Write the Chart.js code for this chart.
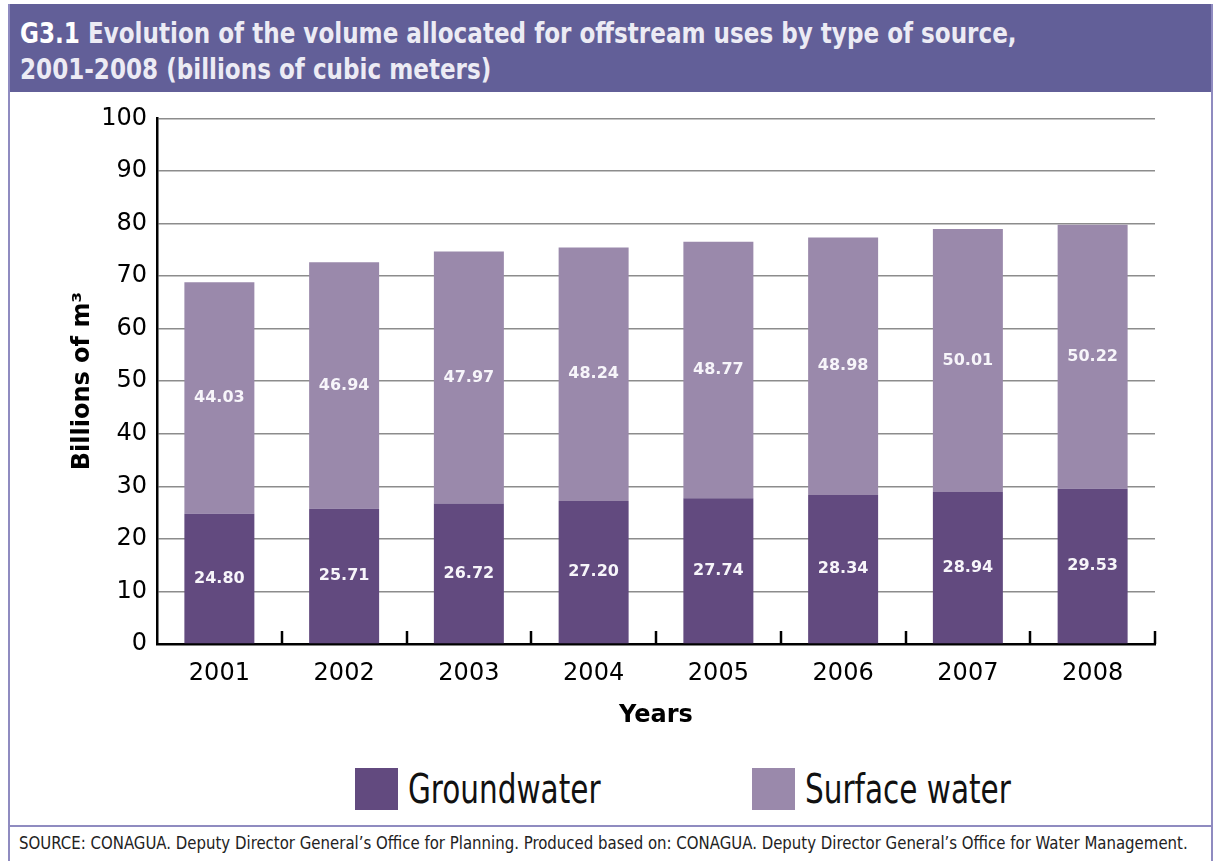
<!DOCTYPE html>
<html>
<head>
<meta charset="utf-8">
<script src="https://cdn.jsdelivr.net/npm/chart.js@4"></script>
<style>
  html, body { margin: 0; padding: 0; background: #fff; }
  body { width: 1217px; height: 861px; position: relative; overflow: hidden; }
  .frame { position: absolute; left: 8px; top: 4px; width: 1201px; height: 870px;
           border-left: 2px solid #8f8bc0; border-right: 2px solid #8f8bc0; }
  .head { position: absolute; left: 0; top: 0; width: 1201px; height: 88px; background: #625f98; }
  .head p { margin: 0; position: absolute; left: 10px; top: 11px; color: #ecebf4; white-space: nowrap;
            font: bold 29px "DejaVu Sans Condensed", "DejaVu Sans", sans-serif; line-height: 36px;
            transform: scaleX(0.885); transform-origin: left top; }
  .head b { color: #fff; }
  .sep { position: absolute; left: 0; top: 821px; width: 1201px; height: 2px; background: #8f8bc0; }
  .source { position: absolute; left: 9px; top: 829px; color: #222; white-space: nowrap;
            font: 17px "DejaVu Sans Condensed", "DejaVu Sans", sans-serif;
            transform: scaleX(0.978); transform-origin: left top; }
  #wrap { position: absolute; left: 10px; top: 94px; width: 1201px; height: 650px; }
  .legend span { position: absolute; top: 766px; display: flex; align-items: center; white-space: nowrap;
                 font: 40px "DejaVu Sans Condensed", "DejaVu Sans", sans-serif; color: #111; }
  .legend i { display: inline-block; width: 43px; height: 42px; margin-right: 10px; flex: none; }
  .legend em { font-style: normal; display: inline-block; transform: scaleX(0.82); transform-origin: left center; }
</style>
</head>
<body>
<div class="frame">
  <div class="head"><p><b>G3.1</b> Evolution of the volume allocated for offstream uses by type of source,<br>2001-2008 (billions of cubic meters)</p></div>
  <div class="sep"></div>
  <div class="source">SOURCE: CONAGUA. Deputy Director General’s Office for Planning. Produced based on: CONAGUA. Deputy Director General’s Office for Water Management.</div>
</div>
<div id="wrap"><canvas id="chart"></canvas></div>
<div class="legend" id="legend"></div>
<script>
const years = ['2001', '2002', '2003', '2004', '2005', '2006', '2007', '2008'];
const groundwater = [24.80, 25.71, 26.72, 27.20, 27.74, 28.34, 28.94, 29.53];
const surfaceWater = [44.03, 46.94, 47.97, 48.24, 48.77, 48.98, 50.01, 50.22];
const seriesNames = ['Groundwater', 'Surface water'];
const seriesColors = ['#624a7f', '#9a89ab'];
const yTicks = [0, 10, 20, 30, 40, 50, 60, 70, 80, 90, 100];

const axisFont = { family: 'DejaVu Sans', size: 24 };

// up-pointing ticks on the x axis between categories
const xTickMarks = {
    id: 'xTickMarks',
    afterDatasetsDraw(chart) {
        const x = chart.scales.x, ctx = chart.ctx, bottom = chart.chartArea.bottom;
        ctx.save();
        ctx.strokeStyle = '#000';
        ctx.lineWidth = 2.5;
        for (let i = 1; i <= years.length; i++) {
            const px = Math.round(x.getPixelForValue(i - 0.5));
            ctx.beginPath();
            ctx.moveTo(px, bottom);
            ctx.lineTo(px, bottom - 13);
            ctx.stroke();
        }
        ctx.restore();
    }
};

// value labels in the middle of each segment
const segmentLabels = {
    id: 'segmentLabels',
    afterDatasetsDraw(chart) {
        const ctx = chart.ctx;
        ctx.save();
        ctx.fillStyle = '#f7f5fa';
        ctx.font = 'bold 16px "DejaVu Sans"';
        ctx.textAlign = 'center';
        ctx.textBaseline = 'middle';
        chart.data.datasets.forEach((ds, di) => {
            chart.getDatasetMeta(di).data.forEach((bar, i) => {
                ctx.fillText(ds.data[i].toFixed(2), bar.x, (bar.y + bar.base) / 2);
            });
        });
        ctx.restore();
    }
};

new Chart(document.getElementById('chart'), {
    type: 'bar',
    data: {
        labels: years,
        datasets: [{
            label: seriesNames[0],
            data: groundwater,
            backgroundColor: seriesColors[0],
        }, {
            label: seriesNames[1],
            data: surfaceWater,
            backgroundColor: seriesColors[1],
        }]
    },
    options: {
        responsive: true,
        maintainAspectRatio: false,
        animation: false,
        events: [],
        layout: { padding: { top: 24, right: 56, left: 58, bottom: 12 } },
        datasets: { bar: { categoryPercentage: 1, barPercentage: 0.561 } },
        scales: {
            x: {
                stacked: true,
                grid: { display: false },
                border: { display: true, color: '#000', width: 2.5 },
                ticks: { color: '#000', font: axisFont, padding: 7 },
                title: { display: true, text: 'Years', color: '#000', font: { family: 'DejaVu Sans', size: 24, weight: 'bold' }, padding: { top: 0, bottom: 2 } },
                afterFit(scale) { scale.height = 88; }
            },
            y: {
                stacked: true,
                min: 0,
                max: 100,
                afterBuildTicks(scale) { scale.ticks = yTicks.map(v => ({ value: v })); },
                grid: { color: '#8c8c8c', lineWidth: 1.5, drawTicks: false },
                border: { display: true, color: '#000', width: 2.5 },
                ticks: { color: '#000', font: axisFont, padding: 10 },
                title: { display: true, text: 'Billions of m³', color: '#000', font: { family: 'DejaVu Sans', size: 24, weight: 'bold' }, padding: { top: 0, bottom: 0 } },
                afterFit(scale) { scale.width = 89; }
            }
        },
        plugins: {
            legend: { display: false },
            tooltip: { enabled: false }
        }
    },
    plugins: [xTickMarks, segmentLabels]
});

const legend = document.getElementById('legend');
const legendLeft = [355, 752];
seriesNames.forEach((name, i) => {
    const item = document.createElement('span');
    item.style.left = legendLeft[i] + 'px';
    const box = document.createElement('i');
    box.style.background = seriesColors[i];
    const label = document.createElement('em');
    label.textContent = name;
    item.appendChild(box);
    item.appendChild(label);
    legend.appendChild(item);
});
</script>
</body>
</html>
